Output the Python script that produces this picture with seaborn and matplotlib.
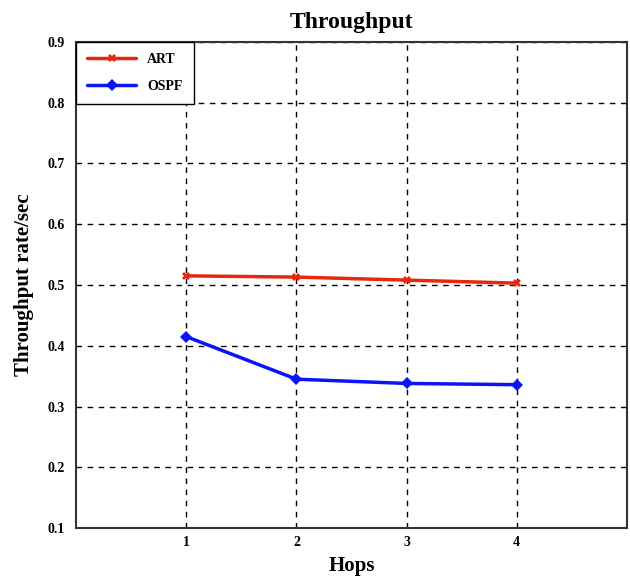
import pandas as pd
import matplotlib
matplotlib.use("Agg")
import matplotlib.pyplot as plt
import seaborn as sns

# Data
hops = [1, 2, 3, 4]
art = [0.515, 0.513, 0.508, 0.503]
ospf = [0.415, 0.345, 0.338, 0.336]

df = pd.DataFrame({
    "Hops": hops * 2,
    "Throughput": art + ospf,
    "Protocol": ["ART"] * 4 + ["OSPF"] * 4,
})

sns.set_style("white", {"text.color": "black", "axes.labelcolor": "black",
                        "xtick.color": "black", "ytick.color": "black"})
plt.rcParams['font.family'] = ['Liberation Serif', 'DejaVu Serif']

fig = plt.figure(figsize=(6.3, 5.81), dpi=100)
ax = fig.add_axes([0.121, 0.091, 0.874, 0.837])

sns.lineplot(data=df, x="Hops", y="Throughput", hue="Protocol", style="Protocol",
             palette={"ART": "#e8280c", "OSPF": "#0a14f5"},
             markers={"ART": "X", "OSPF": "D"}, dashes=False,
             markersize=6, markeredgewidth=0, linewidth=2.5, ax=ax)

ax.set_xlim(0, 5)
ax.set_ylim(0.1, 0.9)
ax.set_xticks(hops)
ax.set_yticks([0.1, 0.2, 0.3, 0.4, 0.5, 0.6, 0.7, 0.8, 0.9])
ax.set_yticklabels(["0.1", "0.2", "0.3", "0.4", "0.5", "0.6", "0.7", "0.8", "0.9"])
for lbl in ax.get_xticklabels() + ax.get_yticklabels():
    lbl.set_fontweight("bold")
    lbl.set_fontsize(10)
ax.tick_params(axis="x", length=0, pad=6)
ax.tick_params(axis="y", length=0, pad=8)
ax.grid(True, color="black", linestyle=(0, (4, 4)), linewidth=1)

for s in ax.spines.values():
    s.set_color("#333333")
    s.set_linewidth(1.5)

ax.set_title("Throughput", fontsize=17, fontweight="bold", pad=10, color="black")
ax.set_xlabel("Hops", fontsize=15, fontweight="bold", labelpad=5)
ax.set_ylabel("Throughput rate/sec", fontsize=15, fontweight="bold", labelpad=10)

leg = ax.legend(loc="upper left", borderaxespad=0, fancybox=False, framealpha=1,
                edgecolor="black", fontsize=10, handlelength=3.5, borderpad=0.8,
                labelspacing=1.0)
for t in leg.get_texts():
    t.set_fontweight("bold")
    t.set_color("black")

fig.savefig("out.png", dpi=100)
